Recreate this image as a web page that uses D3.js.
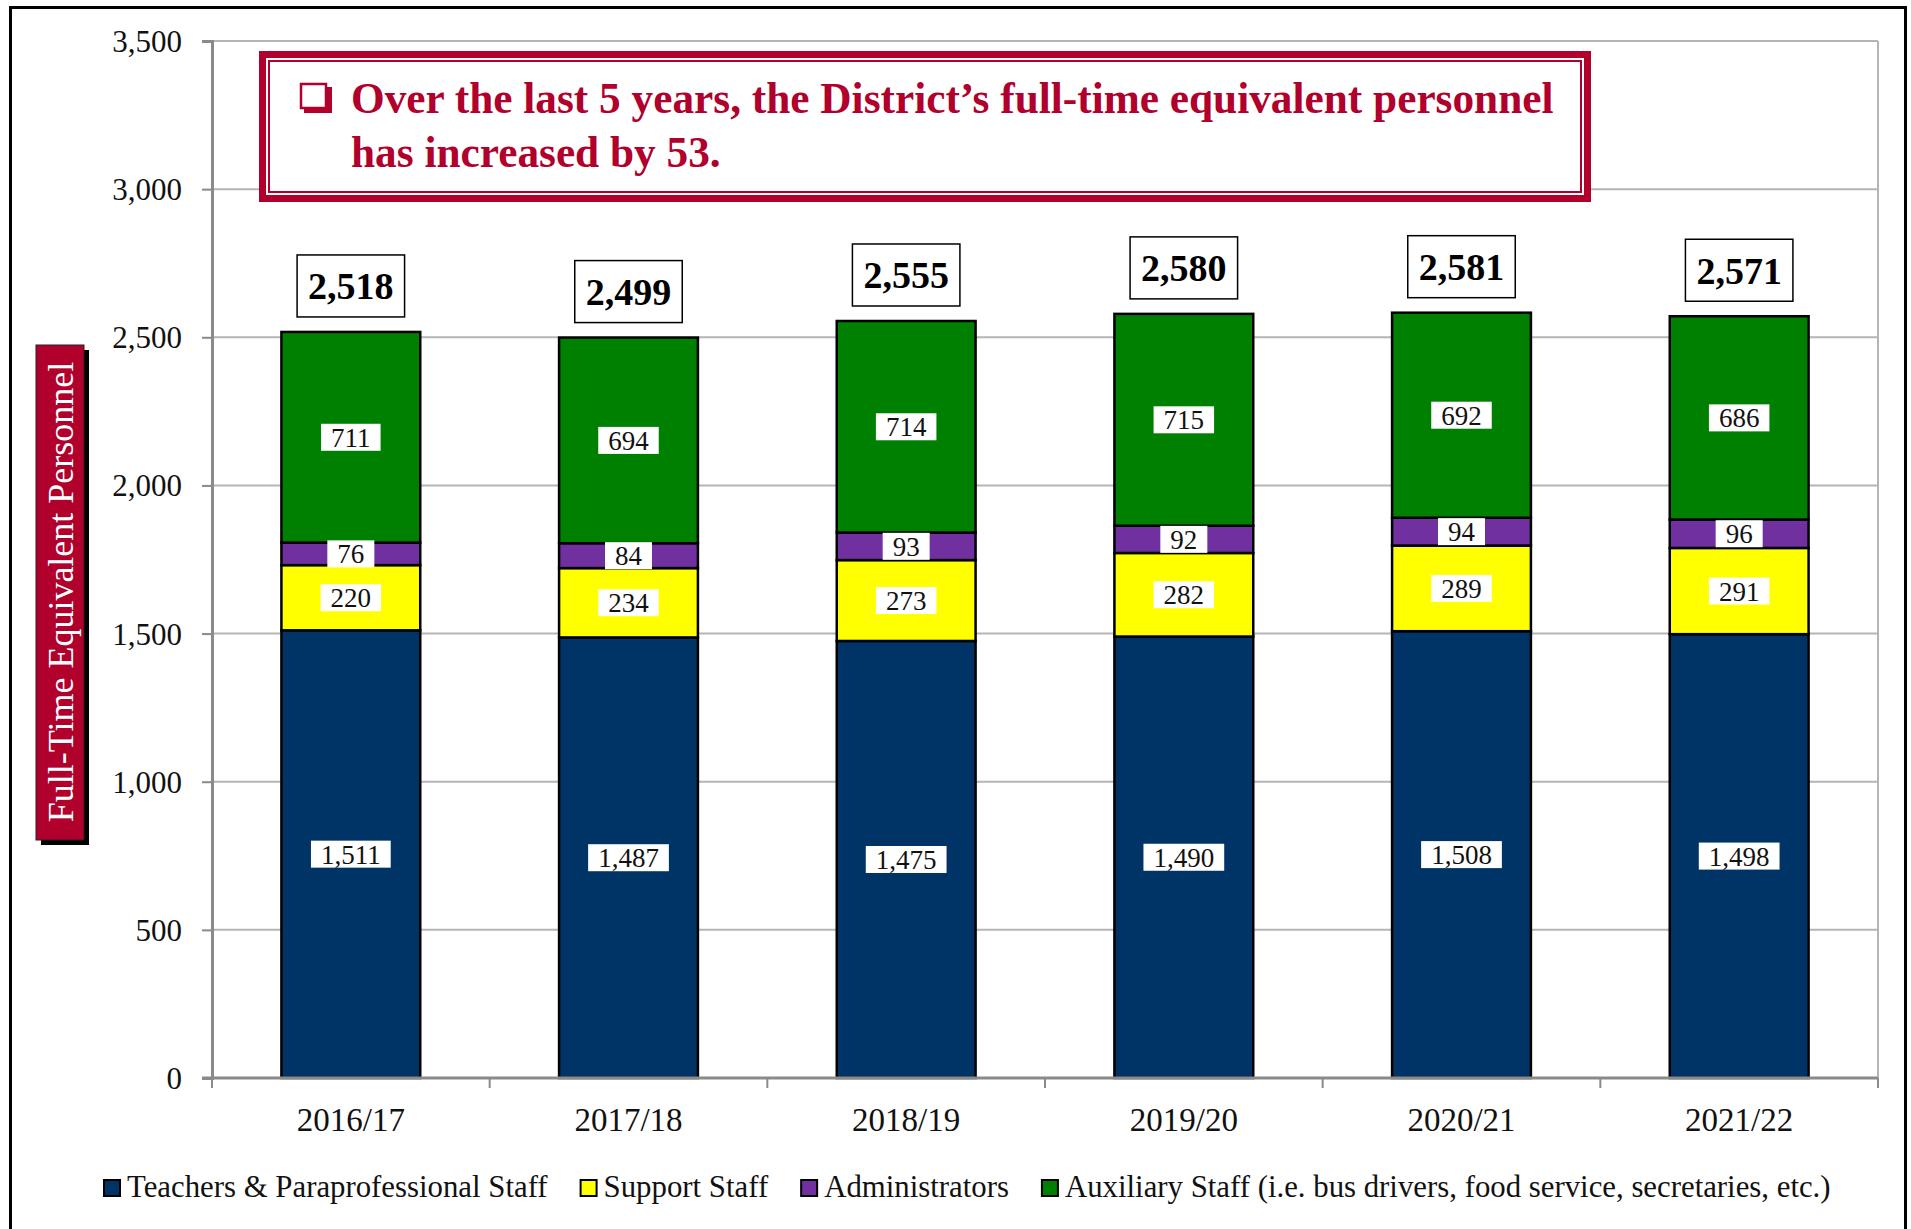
<html>
<head>
  <title>Full-Time Equivalent Personnel</title>
  <meta charset="utf-8" />
  <style type="text/css">
    body { margin: 0; background: white; }
    svg { display: block; }
    text { font-family: "Liberation Serif", "Times New Roman", serif; }
  </style>
  <script src="https://d3js.org/d3.v7.min.js" charset="utf-8"></script>
</head>
<body>
<svg width="1911" height="1229"></svg>
<script>
  // data
  var years = ["2016/17", "2017/18", "2018/19", "2019/20", "2020/21", "2021/22"];
  var teachers = [1511, 1487, 1475, 1490, 1508, 1498];
  var support = [220, 234, 273, 282, 289, 291];
  var admins = [76, 84, 93, 92, 94, 96];
  var auxiliary = [711, 694, 714, 715, 692, 686];
  var totals = [2518, 2499, 2555, 2580, 2581, 2571];
  var seriesNames = ["Teachers & Paraprofessional Staff", "Support Staff", "Administrators",
    "Auxiliary Staff (i.e. bus drivers, food service, secretaries, etc.)"];
  var seriesKeys = ["teachers", "support", "admins", "auxiliary"];
  var yTicks = [0, 500, 1000, 1500, 2000, 2500, 3000, 3500];
  var headline = ["Over the last 5 years, the District\u2019s full-time equivalent personnel", "has increased by 53."];
  var yTitle = "Full-Time Equivalent Personnel";

  var red = "#b0002b";
  var colors = d3.scaleOrdinal().domain(seriesKeys).range(["#003366", "#ffff00", "#7030a0", "#008000"]);

  var rows = years.map(function (yr, i) {
    return { year: yr, teachers: teachers[i], support: support[i], admins: admins[i], auxiliary: auxiliary[i], total: totals[i] };
  });

  var svg = d3.select("svg");
  var fmt = d3.format(",");

  var x = d3.scaleBand().domain(years).range([212, 1878]).paddingInner(0.5).paddingOuter(0.25);
  var y = d3.scaleLinear().domain([0, 3500]).range([1078, 41]);

  // outer frame
  svg.append("rect").attr("x", 10.5).attr("y", 7.5).attr("width", 1895).attr("height", 1300)
    .style("fill", "none").style("stroke", "black").style("stroke-width", 3);

  // gridlines + right border
  svg.append("g").selectAll("line").data(yTicks.filter(function (d) { return d > 0 })).enter()
    .append("line")
    .attr("x1", 212).attr("x2", 1878)
    .attr("y1", function (d) { return y(d) }).attr("y2", function (d) { return y(d) })
    .style("stroke", "#b5b5b5").style("stroke-width", 2);
  svg.append("line").attr("x1", 1878).attr("x2", 1878).attr("y1", y(3500)).attr("y2", y(0))
    .style("stroke", "#b5b5b5").style("stroke-width", 2);

  // y axis
  var yAxis = svg.append("g").attr("transform", "translate(212,0)")
    .call(d3.axisLeft(y).tickValues(yTicks).tickSize(10).tickPadding(20).tickFormat(fmt));
  yAxis.select(".domain").style("stroke", "#8a8a8a").style("stroke-width", 3);
  yAxis.selectAll(".tick line").style("stroke", "#8a8a8a").style("stroke-width", 2);
  yAxis.selectAll("text").style("font-family", "Liberation Serif").style("font-size", "31px")
    .style("fill", "#111").attr("dy", "0.34em");

  // bars
  var stacked = d3.stack().keys(seriesKeys)(rows);
  var layers = svg.append("g").selectAll("g").data(stacked).enter().append("g")
    .style("fill", function (d) { return colors(d.key) });
  layers.selectAll("rect").data(function (d) { return d }).enter().append("rect")
    .attr("x", function (d) { return x(d.data.year) })
    .attr("width", x.bandwidth())
    .attr("y", function (d) { return y(d[1]) })
    .attr("height", function (d) { return y(d[0]) - y(d[1]) })
    .style("stroke", "black").style("stroke-width", 2.5);

  // x axis
  var xAxis = svg.append("g").attr("transform", "translate(0," + y(0) + ")")
    .call(d3.axisBottom(x).tickSize(0).tickPadding(30));
  xAxis.select(".domain").remove();
  xAxis.selectAll("text").style("font-family", "Liberation Serif").style("font-size", "33px")
    .style("fill", "#111").attr("dy", "0.71em");
  svg.append("line").attr("x1", 202).attr("x2", 1878).attr("y1", y(0)).attr("y2", y(0))
    .style("stroke", "#8a8a8a").style("stroke-width", 3);
  svg.append("g").selectAll("line").data(d3.range(years.length + 1)).enter().append("line")
    .attr("x1", function (i) { return 212 + i * x.step() })
    .attr("x2", function (i) { return 212 + i * x.step() })
    .attr("y1", y(0)).attr("y2", y(0) + 10)
    .style("stroke", "#8a8a8a").style("stroke-width", 2);

  // segment value labels
  stacked.forEach(function (layer) {
    layer.forEach(function (d) {
      var cx = x(d.data.year) + x.bandwidth() / 2;
      var cy = (y(d[0]) + y(d[1])) / 2;
      var g = svg.append("g");
      var t = g.append("text").attr("x", cx).attr("y", cy).attr("dy", "0.35em")
        .style("text-anchor", "middle").style("font-size", "27px").style("fill", "#111")
        .text(fmt(d[1] - d[0]));
      var w = t.node().getComputedTextLength() + 20;
      g.insert("rect", "text").attr("x", cx - w / 2).attr("y", cy - 13.5).attr("width", w).attr("height", 27)
        .style("fill", "white");
    });
  });

  // total labels
  rows.forEach(function (r) {
    var top = y(r.teachers + r.support + r.admins + r.auxiliary);
    var cx = x(r.year) + x.bandwidth() / 2;
    var g = svg.append("g");
    var t = g.append("text").attr("x", cx).attr("y", top - 46).attr("dy", "0.35em")
      .style("text-anchor", "middle").style("font-size", "38px").style("font-weight", "bold")
      .style("fill", "black").text(fmt(r.total));
    var w = t.node().getComputedTextLength() + 22;
    g.insert("rect", "text").attr("x", cx - w / 2).attr("y", top - 77).attr("width", w).attr("height", 62)
      .style("fill", "white").style("stroke", "black").style("stroke-width", 1.5);
  });

  // headline box
  svg.append("rect").attr("x", 262.5).attr("y", 54.5).attr("width", 1325).attr("height", 144)
    .style("fill", "white").style("stroke", red).style("stroke-width", 7);
  svg.append("rect").attr("x", 269).attr("y", 61).attr("width", 1312).attr("height", 131)
    .style("fill", "none").style("stroke", red).style("stroke-width", 2);
  svg.append("rect").attr("x", 304).attr("y", 87).attr("width", 28).attr("height", 26).style("fill", red);
  svg.append("rect").attr("x", 301).attr("y", 84).attr("width", 25).attr("height", 24)
    .style("fill", "white").style("stroke", red).style("stroke-width", 2.5);
  svg.append("g").selectAll("text").data(headline).enter().append("text")
    .attr("x", 351).attr("y", function (d, i) { return 113 + i * 54 })
    .style("font-size", "43.3px").style("font-weight", "bold").style("fill", red)
    .text(function (d) { return d });

  // y title
  svg.append("rect").attr("x", 41).attr("y", 350).attr("width", 48).attr("height", 495).style("fill", "black");
  svg.append("rect").attr("x", 36).attr("y", 345).attr("width", 48).attr("height", 495)
    .style("fill", red).style("stroke", "#222").style("stroke-width", 1);
  svg.append("text").attr("transform", "translate(60,592) rotate(-90)").attr("dy", "0.35em")
    .style("text-anchor", "middle").style("font-size", "36px").style("fill", "white").text(yTitle);

  // legend
  var lx = 104;
  seriesKeys.forEach(function (k, i) {
    svg.append("rect").attr("x", lx).attr("y", 1180).attr("width", 16).attr("height", 16)
      .style("fill", colors(k)).style("stroke", "black").style("stroke-width", 2);
    var t = svg.append("text").attr("x", lx + 23).attr("y", 1197)
      .style("font-size", "30.8px").style("fill", "#111").text(seriesNames[i]);
    lx += 23 + t.node().getComputedTextLength() + 33;
  });
</script>
</body>
</html>
